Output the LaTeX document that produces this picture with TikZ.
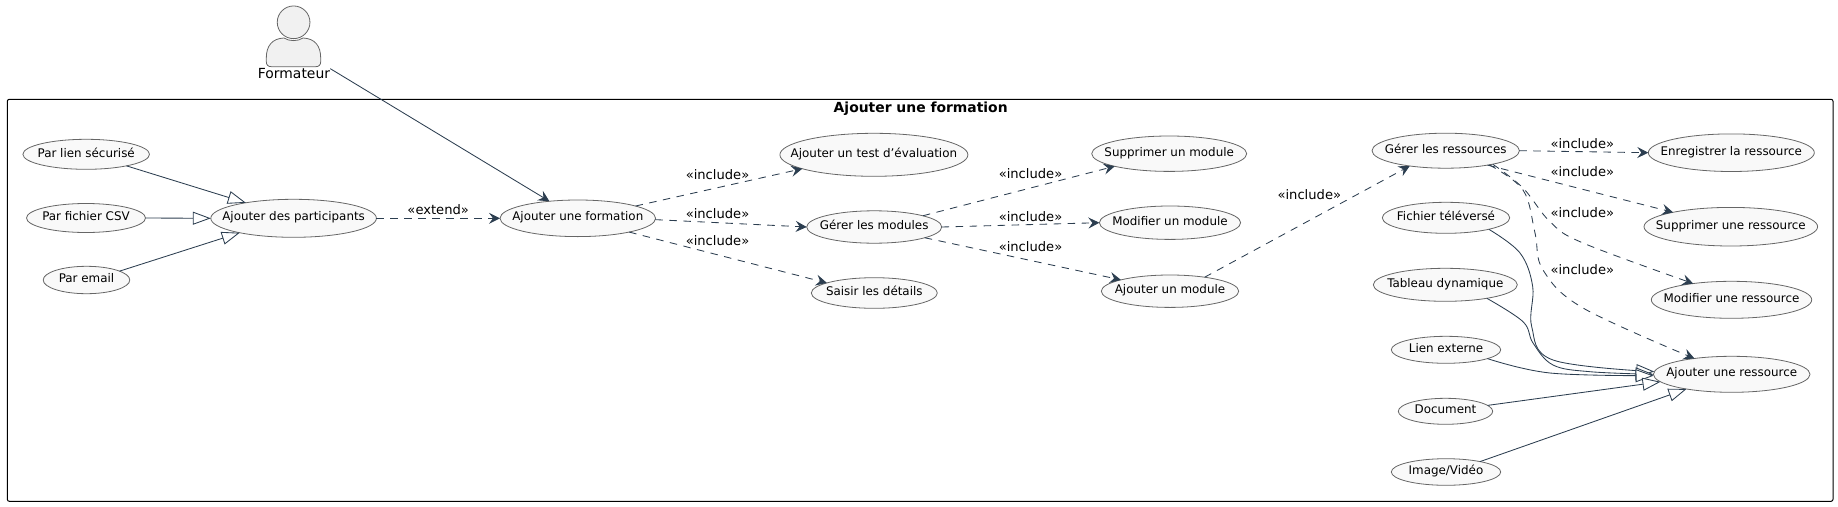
\documentclass[tikz,border=0pt]{standalone}
\usepackage{fontspec}
\setmainfont{DejaVu Sans}
\usetikzlibrary{shapes.geometric,arrows.meta}
\definecolor{edgecol}{HTML}{2C3E50}
\definecolor{ovalfill}{HTML}{F9F9F9}
\definecolor{actorfill}{HTML}{F1F1F1}
\definecolor{ovalline}{HTML}{666666}
\tikzset{usecase/.style={ellipse,draw=ovalline,fill=ovalfill,line width=0.8pt,inner sep=0pt,outer sep=0pt,font=\fontsize{11.9}{13}\selectfont},
        assoc/.style={draw=edgecol,line width=0.85pt,-{Stealth[length=11pt,width=11pt,inset=4pt]}},
        depend/.style={assoc,dash pattern=on 7.5pt off 6.5pt},
        inherit/.style={draw=edgecol,line width=0.85pt,-{Triangle[open,length=18pt,width=13pt,fill=white]}},
        deplabel/.style={font=\fontsize{13.1}{15}\selectfont,inner sep=0pt},
        }
\newcommand{\ucnode}[6]{\node[usecase,minimum width=2*#4pt,minimum height=2*#5pt] (#1) at (#2,#3) {\makebox[0pt]{\strut #6}};}

\begin{document}
\begin{tikzpicture}[x=1pt,y=-1pt]
    \useasboundingbox (0,0) rectangle (1838,506);

    % actor
    \draw[ovalline,fill=actorfill,line width=0.8pt] (266.3,58) .. controls (266.3,46) and (272,38.5) .. (284,38)
        .. controls (289,41.5) and (298,41.5) .. (303,38) .. controls (315,38.5) and (320.7,46) .. (320.7,58)
        -- (320.7,61.5) .. controls (320.7,65) and (319,66.7) .. (315.5,66.7) -- (271.5,66.7) .. controls (268,66.7) and (266.3,65) .. (266.3,61.5) -- cycle;
    \node[circle,draw=ovalline,fill=actorfill,line width=0.8pt,minimum size=32.7pt,inner sep=0pt] (head) at (293.6,22.3) {};
    \node[font=\fontsize{13.9}{15}\selectfont,inner sep=0pt] (formateur) at (294,74) {Formateur};

    % frame
    \node[draw=black,line width=1pt,rounded corners=2pt,minimum width=1825.7pt,minimum height=402pt,inner sep=0pt,outer sep=0pt] (cadre) at (920.15,300.3) {};
    \node[font=\fontsize{13.9}{15}\selectfont\bfseries,inner sep=0pt] (titre) at (920.7,109) {Ajouter une formation};

    % participants
    \ucnode{lien}{86.2}{154.3}{63.3}{15}{Par lien sécurisé}
    \ucnode{csv}{86}{218}{59.5}{14.5}{Par fichier CSV}
    \ucnode{email}{86.5}{280}{43.3}{13.7}{Par email}
    \ucnode{participants}{293.6}{218.3}{82.8}{19}{Ajouter des participants}
    \ucnode{formation}{577.8}{218.3}{77.8}{18.3}{Ajouter une formation}

    % middle
    \ucnode{test}{873.9}{154.8}{94}{21.5}{Ajouter un test d’évaluation}
    \ucnode{modules}{874.2}{227}{67.5}{16.2}{Gérer les modules}
    \ucnode{details}{874.3}{293}{63}{15.3}{Saisir les détails}
    \ucnode{supmod}{1169.2}{153.7}{77.5}{17.7}{Supprimer un module}
    \ucnode{modmod}{1170}{222.7}{70.6}{16.7}{Modifier un module}
    \ucnode{ajmod}{1170}{291.2}{68.7}{16.2}{Ajouter un module}

    % resources
    \ucnode{ressources}{1445.7}{150.7}{73.7}{17.5}{Gérer les ressources}
    \ucnode{fichier}{1446}{217.8}{63.7}{15.5}{Fichier téléversé}
    \ucnode{tableau}{1445.3}{284.8}{72}{16.5}{Tableau dynamique}
    \ucnode{externe}{1446}{349.8}{54.7}{13.5}{Lien externe}
    \ucnode{document}{1445.5}{411.3}{47.2}{13}{Document}
    \ucnode{image}{1446}{472}{54.7}{13.3}{Image/Vidéo}
    \ucnode{enrres}{1731.3}{152.7}{83}{18.8}{Enregistrer la ressource}
    \ucnode{supres}{1730.8}{226.7}{86.8}{19.3}{Supprimer une ressource}
    \ucnode{modres}{1731.5}{299.8}{80.2}{18.5}{Modifier une ressource}
    \ucnode{ajres}{1731.7}{374.3}{78.3}{18}{Ajouter une ressource}

    \draw[assoc] (formateur.north east) -- (formation.149.5);

    \draw[inherit] (lien.-16.6) -- (participants.162.2);
    \draw[inherit] (csv.east) -- (participants.west);
    \draw[inherit] (email.15.7) -- (participants.195.8);
    \draw[depend] (participants.east) -- (formation.west) node[deplabel,pos=0.5,yshift=8.6pt] (lbext) {«extend»};

    \draw[depend] (formation.12.3) -- (test.191.4);
    \draw[depend] (formation.-1.8) -- (modules.west);
    \draw[depend] (formation.-15.3) -- (details.168.2);
    \draw[depend] (modules.13.9) -- (supmod.193.9);
    \draw[depend] (modules.east) -- (modmod.west);
    \draw[depend] (modules.-12.5) -- (ajmod.167.7);
    \draw[depend] (ajmod.22.5) -- (ressources.203.6);
    \draw[depend] (ressources.east) -- (enrres.west);
    \draw[depend] (ressources.-19.2) -- (supres.166.7);
    \draw[depend] plot[smooth,tension=0.6] coordinates {(ressources.-16.8) (1523,188) (1550,221.7) (1583,243) (modres.157.5)};
    \draw[depend] plot[smooth,tension=0.6] coordinates {(ressources.-18.7) (1523,190) (1535,233) (1543,270) (1583,308) (ajres.157.8)};

    \draw[inherit] plot[smooth,tension=0.6] coordinates {(fichier.-15.2) (1520,253) (1532.7,286.7) (1531.7,326.7) (1553,360) (ajres.178)};
    \draw[inherit] plot[smooth,tension=0.6] coordinates {(tableau.-18) (1523,321.7) (1533,343) (1553,365) (1590,371.7) (ajres.west)};
    \draw[inherit] plot[smooth,tension=0.6] coordinates {(externe.-12.6) (1550,373) (ajres.181)};
    \draw[inherit] (document.8.2) -- (ajres.186);
    \draw[inherit] (image.17.7) -- (ajres.198.2);

    % labels
    \node[deplabel] (lba) at (717.5,174.7) {«include»};
    \node[deplabel] (lbb) at (717.5,213.3) {«include»};
    \node[deplabel] (lbc) at (717.5,240.3) {«include»};
    \node[deplabel] (lbd) at (1030.5,173.3) {«include»};
    \node[deplabel] (lbe) at (1030.5,216.7) {«include»};
    \node[deplabel] (lbf) at (1030.5,247) {«include»};
    \node[deplabel] (lbg) at (1309.3,194.3) {«include»};
    \node[deplabel] (lbh) at (1582.3,143.7) {«include»};
    \node[deplabel] (lbi) at (1582.3,171.7) {«include»};
    \node[deplabel] (lbj) at (1582.3,212.7) {«include»};
    \node[deplabel] (lbk) at (1582.3,269.3) {«include»};
\end{tikzpicture}
\end{document}
